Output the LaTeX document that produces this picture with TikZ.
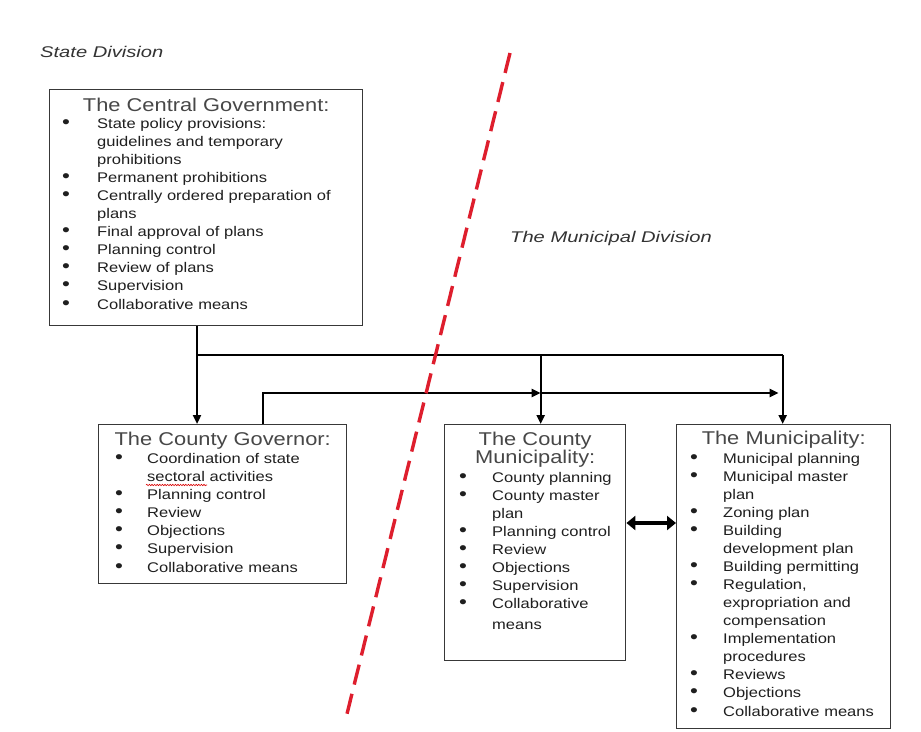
\documentclass[tikz,border=0pt]{standalone}
\usepackage{fontspec}
\setmainfont{Liberation Sans}[FakeStretch=1.18]
\newfontfamily\lblfont{Liberation Sans}[FakeStretch=1.3]
\usetikzlibrary{arrows.meta,decorations.pathmorphing,calc}

% hanging bullet entry: one paragraph per entry, later lines indented by \bind
\newlength\bind
\newcommand\bulletmark{{\fontsize{19}{17}\selectfont\textbullet}}
\newcommand\bpt[1]{\noindent\hangindent=\bind\hangafter=1\makebox[\bind][l]{\bulletmark}#1\par}
\newcommand\lastgap{\vspace{1pt}}

\begin{document}
\begin{tikzpicture}[x=1pt,y=-1pt,
  frame/.style={draw=black!78, line width=1.4pt, fill=white, inner sep=0pt, anchor=north west},
  heading/.style={anchor=base, inner sep=0pt, text width=#1, align=center,
    font=\fontsize{18.5}{18}\selectfont, text=black!72},
  items/.style={anchor=base west, inner sep=0pt, text width=320pt, align=left,
    font=\fontsize{14}{18}\selectfont, text=black!88,
    execute at begin node={\setlength{\bind}{#1}}},
  wire/.style={line width=2.3pt, draw=black},
  feed/.style={wire, -{Triangle[length=9pt,width=8pt]}},
  mutual/.style={line width=4pt, draw=black,
    {Triangle[length=9pt,width=14pt]}-{Triangle[length=9pt,width=14pt]}},
  divider/.style={draw={rgb,255:red,222;green,30;blue,45}, line width=3.4pt,
    dash pattern=on 20.5pt off 9.5pt},
  division/.style={anchor=base west, inner sep=0pt,
    font=\lblfont\itshape\fontsize{15.5}{18}\selectfont, text=black!80},
  spell/.style={draw=red!85!black, line width=0.6pt, decorate,
    decoration={snake, amplitude=0.7pt, segment length=2.6pt}}]

\path[use as bounding box, fill=white] (0,0) rectangle (921,731);

% division labels
\node[division] (stateLbl) at (40,57) {State Division};
\node[division] (muniLbl) at (510,242) {The Municipal Division};

% boxes
\node[frame, minimum width=313pt, minimum height=236pt] (cg) at (49,89) {};
\node[frame, minimum width=248pt, minimum height=159pt] (gov) at (98,424) {};
\node[frame, minimum width=181pt, minimum height=236pt] (cm) at (444,424) {};
\node[frame, minimum width=214pt, minimum height=304pt] (mu) at (676,424) {};

% central government
\node[heading=313pt] (cgT) at ([yshift=-22pt]cg.north) {The Central Government:};
\node[items=35pt] (cgL) at ([xshift=13pt,yshift=-39pt]cg.north west) {%
\bpt{State policy provisions:\newline guidelines and temporary\newline prohibitions}%
\bpt{Permanent prohibitions}%
\bpt{Centrally ordered preparation of\newline plans}%
\bpt{Final approval of plans}%
\bpt{Planning control}%
\bpt{Review of plans}%
\bpt{Supervision}%
\lastgap\bpt{Collaborative means}};

% county governor
\node[heading=248pt] (govT) at ([yshift=-21pt]gov.north) {The County Governor:};
\node[items=32pt] (govL) at ([xshift=17pt,yshift=-39pt]gov.north west) {%
\bpt{Coordination of state\newline sectoral activities}%
\bpt{Planning control}%
\bpt{Review}%
\bpt{Objections}%
\bpt{Supervision}%
\lastgap\bpt{Collaborative means}};
\draw[spell] ([xshift=48pt,yshift=-61pt]gov.north west) -- ([xshift=109pt,yshift=-61pt]gov.north west);

% county municipality
\node[heading=181pt] (cmT) at ([yshift=-21pt]cm.north) {The County\\Municipality:};
\node[items=33pt] (cmL) at ([xshift=15pt,yshift=-58pt]cm.north west) {%
\bpt{County planning}%
\bpt{County master\newline plan}%
\bpt{Planning control}%
\bpt{Review}%
\bpt{Objections}%
\bpt{Supervision}%
\bpt{Collaborative\vadjust{\vskip 3pt}\newline means}};

% municipality
\node[heading=214pt] (muT) at ([yshift=-20pt]mu.north) {The Municipality:};
\node[items=33pt] (muL) at ([xshift=14pt,yshift=-39pt]mu.north west) {%
\bpt{Municipal planning}%
\bpt{Municipal master\newline plan}%
\bpt{Zoning plan}%
\bpt{Building\newline development plan}%
\bpt{Building permitting}%
\bpt{Regulation,\newline expropriation and\newline compensation}%
\bpt{Implementation\newline procedures}%
\bpt{Reviews}%
\bpt{Objections}%
\lastgap\bpt{Collaborative means}};

% connectors
\coordinate (bus) at (197,355);
\coordinate (lat) at (263,393);
\coordinate (cmIn) at ([xshift=5.5pt]cm.north);
\coordinate (muIn) at ([xshift=-1pt]mu.north);

\draw[wire] (cg.south -| bus) -- (bus) -- (bus -| muIn);
\draw[feed] (bus) -- (bus |- gov.north);
\draw[feed] (bus -| cmIn) -- (cmIn);
\draw[feed] (bus -| muIn) -- (muIn);
\draw[feed] (gov.north -| lat) |- (lat -| cmIn);
\draw[feed] (lat -| cmIn) -- ($(lat -| muIn)+(-4,0)$);
\draw[mutual] ([yshift=-99pt]cm.north east) -- ([yshift=-99pt]mu.north west);

% dashed boundary between state and municipal divisions
\coordinate (divTop) at (510,53);
\coordinate (divBot) at (345,722);
\draw[divider] (divTop) -- (divBot);

\end{tikzpicture}
\end{document}
